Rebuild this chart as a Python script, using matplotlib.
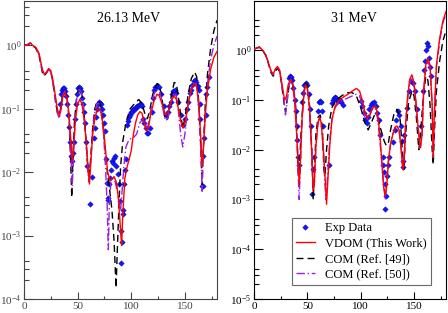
import matplotlib
matplotlib.use("Agg")
import matplotlib.pyplot as plt
from matplotlib.ticker import LogLocator, LogFormatterMathtext, MultipleLocator, NullFormatter

plt.rcParams["font.family"] = "serif"
plt.rcParams["font.serif"] = ["Liberation Serif", "DejaVu Serif"]
plt.rcParams["mathtext.fontset"] = "stix"

# ---- 26.13 MeV panel ----
vdom26_ang = [0, 3, 6, 8, 11, 14, 17, 19, 21, 23, 25, 27, 29, 31, 33, 34.5, 36, 38, 40, 42,
              43.5, 45, 46.5, 48, 50, 52, 54, 56, 58, 60, 61, 62, 64, 66, 68, 70, 72, 74,
              76, 78, 80, 82, 84, 86, 88, 90, 91, 92, 94, 96, 98, 100, 102, 104, 106, 108,
              110, 112, 114, 116, 118, 121, 124, 126, 128, 130, 132, 134, 137, 140, 142,
              144, 146, 148, 150, 153, 156, 159, 161, 163, 165, 166, 167, 169, 171, 174,
              177, 180]
vdom26 = [1.0, 1.02, 1.1, 1.0, 0.93, 0.75, 0.42, 0.35, 0.38, 0.43, 0.4, 0.28, 0.17, 0.1,
          0.078, 0.1, 0.15, 0.18, 0.15, 0.08, 0.035, 0.015, 0.03, 0.07, 0.12, 0.14, 0.12,
          0.07, 0.03, 0.01, 0.0065, 0.012, 0.04, 0.07, 0.095, 0.1, 0.085, 0.05, 0.022, 0.01,
          0.0075, 0.0078, 0.0085, 0.007, 0.004, 0.0012, 0.0007, 0.002, 0.008, 0.012, 0.016,
          0.022, 0.04, 0.06, 0.08, 0.09, 0.085, 0.06, 0.045, 0.05, 0.08, 0.13, 0.17, 0.16,
          0.13, 0.1, 0.08, 0.085, 0.13, 0.16, 0.14, 0.1, 0.065, 0.05, 0.06, 0.12, 0.2, 0.25,
          0.22, 0.12, 0.03, 0.012, 0.02, 0.08, 0.2, 0.42, 0.65, 0.8]

com49_26_ang = [0, 3, 6, 8, 11, 14, 17, 19, 21, 23, 25, 27, 29, 31, 33, 34.5, 36, 38, 40, 42,
                43.5, 44.5, 45.5, 47, 49, 51, 53, 55, 57, 59, 60.5, 62, 64, 66, 68, 70, 72,
                74, 76, 78, 80, 82, 84, 85.8, 87, 88.5, 90, 92, 95, 99, 103, 107, 110, 113,
                115, 117, 120, 124, 126, 128, 130, 132, 134, 137, 140, 142, 144, 146, 148,
                150, 153, 156, 159, 161, 163, 165, 166, 167, 169, 171, 174, 177, 180]
com49_26 = [1.0, 1.02, 1.08, 1.0, 0.9, 0.7, 0.38, 0.33, 0.37, 0.42, 0.38, 0.26, 0.15, 0.09,
            0.08, 0.11, 0.17, 0.19, 0.16, 0.07, 0.015, 0.004, 0.015, 0.06, 0.15, 0.21, 0.2,
            0.13, 0.05, 0.015, 0.008, 0.015, 0.05, 0.1, 0.13, 0.13, 0.1, 0.05, 0.02, 0.009,
            0.005, 0.0025, 0.0008, 0.00015, 0.0006, 0.003, 0.012, 0.03, 0.06, 0.1, 0.12, 0.14,
            0.12, 0.08, 0.07, 0.09, 0.17, 0.25, 0.24, 0.17, 0.1, 0.065, 0.07, 0.15, 0.26,
            0.25, 0.15, 0.08, 0.05, 0.07, 0.17, 0.3, 0.38, 0.32, 0.12, 0.02, 0.006, 0.02, 0.12,
            0.35, 0.9, 1.7, 2.5]

com50_26_ang = [0, 3, 6, 8, 11, 14, 17, 19, 21, 23, 25, 27, 29, 31, 33, 34.5, 36, 38, 40, 42,
                43.5, 45, 46, 47.5, 49, 51, 53, 55, 57, 59, 60.5, 62, 64, 66, 68, 70, 72, 74,
                76, 77.5, 78.6, 79.5, 81, 83, 85, 87, 89, 90, 91, 93, 95, 98, 102, 105, 108,
                111, 113, 115, 117, 120, 123, 126, 128, 130, 132, 134, 137, 140, 142, 144,
                146, 148, 150, 153, 156, 159, 161, 163, 165, 166, 167, 169, 171, 174, 177, 180]
com50_26 = [1.0, 1.02, 1.08, 1.0, 0.9, 0.72, 0.4, 0.34, 0.37, 0.42, 0.38, 0.25, 0.14, 0.085,
            0.07, 0.1, 0.16, 0.19, 0.15, 0.07, 0.02, 0.006, 0.015, 0.06, 0.14, 0.2, 0.19, 0.13,
            0.05, 0.015, 0.007, 0.014, 0.045, 0.09, 0.12, 0.12, 0.09, 0.045, 0.012, 0.003,
            0.0006, 0.003, 0.007, 0.008, 0.007, 0.005, 0.003, 0.0025, 0.004, 0.012, 0.025,
            0.033, 0.035, 0.04, 0.06, 0.07, 0.055, 0.05, 0.07, 0.15, 0.2, 0.2, 0.15, 0.09,
            0.065, 0.07, 0.13, 0.18, 0.16, 0.09, 0.04, 0.025, 0.04, 0.12, 0.22, 0.27, 0.23,
            0.1, 0.02, 0.005, 0.02, 0.1, 0.25, 0.6, 1.0, 1.4]

exp26_ang = [33.5, 34.5, 35.5, 36.5, 37.5, 38.5, 39.5, 40.5, 41.3, 42.3, 43.3, 44, 44.5, 46,
             47, 47.8, 48.5, 49.3, 50.2, 51, 52, 53, 54, 55, 56, 57, 58, 59, 61.6, 63,
             65, 66, 67, 68, 69, 70, 71, 72, 73, 73.7, 74.5, 75.5, 76.5, 77, 78, 78.5, 79.5,
             80, 81, 82, 83, 84, 85, 86, 87.5, 88.5, 89.5, 90, 90.5, 91.5, 92, 92.5, 93, 94,
             95, 96, 97, 98, 99, 100, 101, 102, 103, 104, 105, 106, 107, 108, 109, 110, 111,
             112, 113.4, 115, 116, 117.5, 119, 120, 121, 122.5, 124, 126, 128, 130.6, 132.5,
             134, 135.5, 136.8, 138, 139, 140.5, 142, 144, 146, 148, 150, 151.5, 153, 154.5,
             155.4, 156.5, 158, 159.5, 160.6, 162, 163, 164, 164.5, 165.7, 166.5, 167, 168,
             169.5, 170, 171, 172]
exp26 = [0.12, 0.17, 0.2, 0.21, 0.21, 0.19, 0.16, 0.12, 0.08, 0.052, 0.03, 0.018, 0.015, 0.02,
         0.03, 0.07, 0.12, 0.17, 0.21, 0.22, 0.21, 0.19, 0.15, 0.12, 0.09, 0.06, 0.03, 0.0125,
         0.0032, 0.0085, 0.035, 0.05, 0.075, 0.1, 0.12, 0.13, 0.125, 0.12, 0.1, 0.08, 0.06,
         0.045, 0.016, 0.0068, 0.0039, 0.0036, 0.0065, 0.0082, 0.011, 0.015, 0.014, 0.017,
         0.018, 0.0125, 0.0095, 0.0065, 0.0035, 0.00037, 0.0012, 0.0008, 0.0025, 0.0022,
         0.0065, 0.011, 0.016, 0.055, 0.065, 0.075, 0.08, 0.09, 0.09, 0.1, 0.1, 0.105, 0.11,
         0.11, 0.115, 0.12, 0.12, 0.11, 0.07, 0.06, 0.05, 0.042, 0.042, 0.05, 0.09, 0.15,
         0.2, 0.22, 0.23, 0.22, 0.17, 0.11, 0.08, 0.09, 0.11, 0.13, 0.17, 0.19, 0.2, 0.18,
         0.13, 0.08, 0.055, 0.07, 0.1, 0.13, 0.18, 0.2, 0.24, 0.27, 0.28, 0.26, 0.23, 0.2,
         0.12, 0.07, 0.006, 0.006, 0.018, 0.035, 0.08, 0.17, 0.22, 0.32]

# ---- 31 MeV panel ----
vdom31_ang = [0, 2.5, 5, 8, 11, 13, 16, 18, 20, 22, 24, 26, 28, 29, 30.5, 32, 34, 36, 38, 40,
              41.5, 42.5, 43.5, 45, 47, 48.5, 50, 52, 54, 55.5, 56.5, 58, 60, 61.5, 63, 65,
              67, 68, 69, 71, 73, 76, 80, 84, 88, 92, 96, 99, 102, 104, 106, 108, 110, 112,
              114, 116, 118, 120, 121.5, 123, 124.5, 126, 128, 130, 132, 134, 136, 138,
              139.5, 140.5, 142, 144, 146, 148, 150, 152, 154, 156, 157.5, 159, 161, 163,
              165, 167, 168, 169, 171, 174, 177, 180]
vdom31 = [1.05, 1.1, 1.15, 1.0, 0.8, 0.6, 0.38, 0.33, 0.42, 0.47, 0.4, 0.22, 0.12, 0.1, 0.12,
          0.2, 0.26, 0.22, 0.1, 0.02, 0.004, 0.002, 0.006, 0.04, 0.15, 0.2, 0.17, 0.07, 0.01,
          0.0015, 0.002, 0.012, 0.035, 0.045, 0.035, 0.01, 0.002, 0.0008, 0.002, 0.012, 0.04,
          0.075, 0.1, 0.115, 0.13, 0.15, 0.17, 0.15, 0.09, 0.055, 0.045, 0.047, 0.06, 0.072,
          0.075, 0.05, 0.02, 0.005, 0.0018, 0.0012, 0.002, 0.006, 0.013, 0.02, 0.028, 0.03,
          0.025, 0.01, 0.004, 0.005, 0.03, 0.12, 0.26, 0.32, 0.22, 0.08, 0.025, 0.011, 0.02,
          0.15, 0.5, 0.68, 0.5, 0.08, 0.007, 0.05, 0.5, 1.7, 3.8, 6.0]

com49_31_ang = [0, 2.5, 5, 8, 11, 13, 16, 18, 20, 22, 24, 26, 28, 29.5, 31, 33, 35, 37, 39,
                40.5, 41.5, 42.5, 44, 46, 48, 50, 52, 54, 55.5, 56.5, 58, 60, 62, 64, 65.5,
                66.5, 68, 70, 73, 77, 82, 87, 92, 96, 100, 104, 107, 110, 113, 116, 119, 122,
                124, 126, 128, 131, 134, 137, 139, 140.5, 142, 145, 148, 150, 152, 154.5, 156,
                158.5, 161, 163, 165, 167, 168, 169, 171, 174, 177, 180]
com49_31 = [1.05, 1.1, 1.15, 1.0, 0.78, 0.58, 0.35, 0.3, 0.38, 0.43, 0.37, 0.2, 0.09, 0.058,
            0.1, 0.2, 0.24, 0.18, 0.07, 0.015, 0.003, 0.004, 0.02, 0.1, 0.22, 0.2, 0.08,
            0.012, 0.001, 0.003, 0.02, 0.045, 0.05, 0.03, 0.004, 0.003, 0.01, 0.03, 0.07, 0.1,
            0.12, 0.14, 0.14, 0.12, 0.07, 0.035, 0.025, 0.035, 0.05, 0.045, 0.025, 0.015,
            0.012, 0.014, 0.025, 0.05, 0.065, 0.04, 0.01, 0.004, 0.02, 0.09, 0.15, 0.12, 0.05,
            0.01, 0.02, 0.1, 0.3, 0.25, 0.08, 0.01, 0.005, 0.02, 0.15, 0.6, 1.5, 2.5]

com50_31_ang = [0, 2.5, 5, 8, 11, 13, 16, 18, 20, 22, 24, 26, 28, 29.5, 31, 33, 35, 37, 39,
                40.5, 41.5, 42.3, 43.5, 45, 47, 48.5, 50, 52, 54, 55.5, 56.5, 58, 60, 61.5,
                63, 65, 66.5, 67.5, 69, 71, 73, 76, 80, 84, 88, 92, 96, 99, 102, 104, 106,
                108, 110, 112, 114, 116, 118, 120, 121.5, 123, 124.5, 126, 128, 130, 132, 134,
                136, 138, 139.5, 140.5, 142, 144, 146, 148, 150, 152, 154, 156, 157.5, 159,
                161, 163, 165, 167, 168, 169, 171, 174, 177, 180]
com50_31 = [1.05, 1.1, 1.15, 1.0, 0.8, 0.6, 0.37, 0.32, 0.4, 0.45, 0.38, 0.2, 0.1, 0.05,
            0.09, 0.2, 0.25, 0.2, 0.08, 0.015, 0.003, 0.001, 0.005, 0.04, 0.15, 0.2, 0.17,
            0.07, 0.01, 0.0015, 0.002, 0.012, 0.035, 0.045, 0.035, 0.01, 0.002, 0.001, 0.003,
            0.015, 0.04, 0.07, 0.09, 0.1, 0.11, 0.12, 0.13, 0.12, 0.07, 0.045, 0.04, 0.045,
            0.06, 0.07, 0.065, 0.04, 0.015, 0.005, 0.002, 0.001, 0.002, 0.006, 0.013, 0.02,
            0.027, 0.03, 0.025, 0.01, 0.004, 0.005, 0.03, 0.1, 0.22, 0.28, 0.2, 0.08, 0.025,
            0.011, 0.02, 0.14, 0.45, 0.6, 0.45, 0.08, 0.007, 0.05, 0.45, 1.5, 3.5, 5.5]

exp31_ang = [33, 34, 35, 36, 37, 38, 39, 40, 40.7, 41.5, 42, 45, 46, 47, 48.5, 50, 51.5,
             52.5, 53.5, 54.5, 55, 56.5, 59.7, 61, 62, 63, 64, 65, 70, 73, 74, 75, 76, 77, 78,
             79, 80, 81, 82, 83, 100, 101.5, 103, 104.5, 105.5, 106.5, 107.8, 109.5, 111,
             112.5, 114, 115.5, 117, 118.5, 120.5, 121, 122, 122.5, 123, 123.5, 124.5, 125.5,
             126.5, 130, 132, 133.5, 134.6, 136, 137.5, 139, 139.5, 140, 141, 143, 145, 147,
             149.5, 151, 152.5, 156.5, 158, 159, 160, 161, 162, 163, 164, 165, 166]
exp31 = [0.28, 0.3, 0.29, 0.25, 0.17, 0.1, 0.06, 0.03, 0.016, 0.007, 0.005, 0.09, 0.14, 0.2,
         0.22, 0.2, 0.13, 0.065, 0.03, 0.0013, 0.004, 0.007, 0.06, 0.09, 0.095, 0.09, 0.06,
         0.03, 0.0049, 0.085, 0.1, 0.11, 0.115, 0.11, 0.1, 0.095, 0.1, 0.1, 0.09, 0.08, 0.095,
         0.075, 0.055, 0.04, 0.035, 0.045, 0.065, 0.08, 0.085, 0.09, 0.075, 0.055, 0.04,
         0.02, 0.007, 0.005, 0.0035, 0.002, 0.00065, 0.0012, 0.003, 0.005, 0.007, 0.014,
         0.025, 0.04, 0.06, 0.05, 0.03, 0.015, 0.006, 0.0045, 0.02, 0.07, 0.15, 0.24, 0.22,
         0.15, 0.065, 0.03, 0.15, 0.4, 0.6, 1.0, 1.4, 1.2, 0.7, 0.45, 0.3]

RED = "#ff0000"
VIOLET = "#9c1ee0"
BLUE = "#1414ff"


def draw_panel(ax, exp_a, exp_v, vd_a, vd_v, c49_a, c49_v, c50_a, c50_v,
               ylim, label, label_x, spine_col):
    ax.plot(exp_a, exp_v, ls="none", marker="D", ms=2.8, color=BLUE,
            mec="#0000c0", mew=0.3, label="Exp Data", zorder=2)
    ax.plot(vd_a, vd_v, color=RED, lw=1.0, label="VDOM (This Work)", zorder=4)
    ax.plot(c49_a, c49_v, color="black", lw=1.0, ls=(0, (5, 3)),
            label="COM (Ref. [49])", zorder=3)
    ax.plot(c50_a, c50_v, color=VIOLET, lw=1.0, ls=(0, (6, 2, 1, 2)),
            label="COM (Ref. [50])", zorder=3)
    ax.set_yscale("log")
    ax.set_xlim(0, 180)
    ax.set_ylim(*ylim)
    ax.xaxis.set_major_locator(MultipleLocator(50))
    ax.xaxis.set_minor_locator(MultipleLocator(25))
    ax.yaxis.set_major_locator(LogLocator(base=10, numticks=20))
    ax.yaxis.set_major_formatter(LogFormatterMathtext())
    ax.yaxis.set_minor_locator(LogLocator(base=10, subs=(2.0, 3.0, 4.0), numticks=20))
    ax.yaxis.set_minor_formatter(NullFormatter())
    ax.tick_params(axis="both", which="both", direction="in", top=False, right=False,
                   labelsize=8, pad=2, colors=spine_col)
    ax.tick_params(axis="y", which="major", length=6.5, width=0.8)
    ax.tick_params(axis="y", which="minor", length=3.6, width=0.8)
    ax.tick_params(axis="x", which="major", length=5, width=0.8)
    ax.tick_params(axis="x", which="minor", length=2.5, width=0.8)
    for sp in ax.spines.values():
        sp.set_color(spine_col)
        sp.set_linewidth(0.8)
    ax.text(label_x, 0.943, label, transform=ax.transAxes, ha="center", va="center",
            fontsize=10)


fig = plt.figure(figsize=(4.48, 3.13), dpi=100)
ax1 = fig.add_axes([0.0536, 0.0447, 0.431, 0.952])
ax2 = fig.add_axes([0.567, 0.0447, 0.4286, 0.952])

draw_panel(ax1, exp26_ang, exp26, vdom26_ang, vdom26, com49_26_ang, com49_26,
           com50_26_ang, com50_26, (1e-4, 5), "26.13 MeV", 0.54, "#444444")
draw_panel(ax2, exp31_ang, exp31, vdom31_ang, vdom31, com49_31_ang, com49_31,
           com50_31_ang, com50_31, (1e-5, 9.7), "31 MeV", 0.52, "black")

leg = ax2.legend(loc="lower right", bbox_to_anchor=(0.92, 0.047), fontsize=9,
                 frameon=True, fancybox=False, handlelength=1.5, handletextpad=0.8,
                 labelspacing=0.28, borderpad=0.35, borderaxespad=0.0)
leg.get_frame().set_edgecolor("#444444")
leg.get_frame().set_linewidth(0.8)

fig.savefig("out.png", dpi=100)
